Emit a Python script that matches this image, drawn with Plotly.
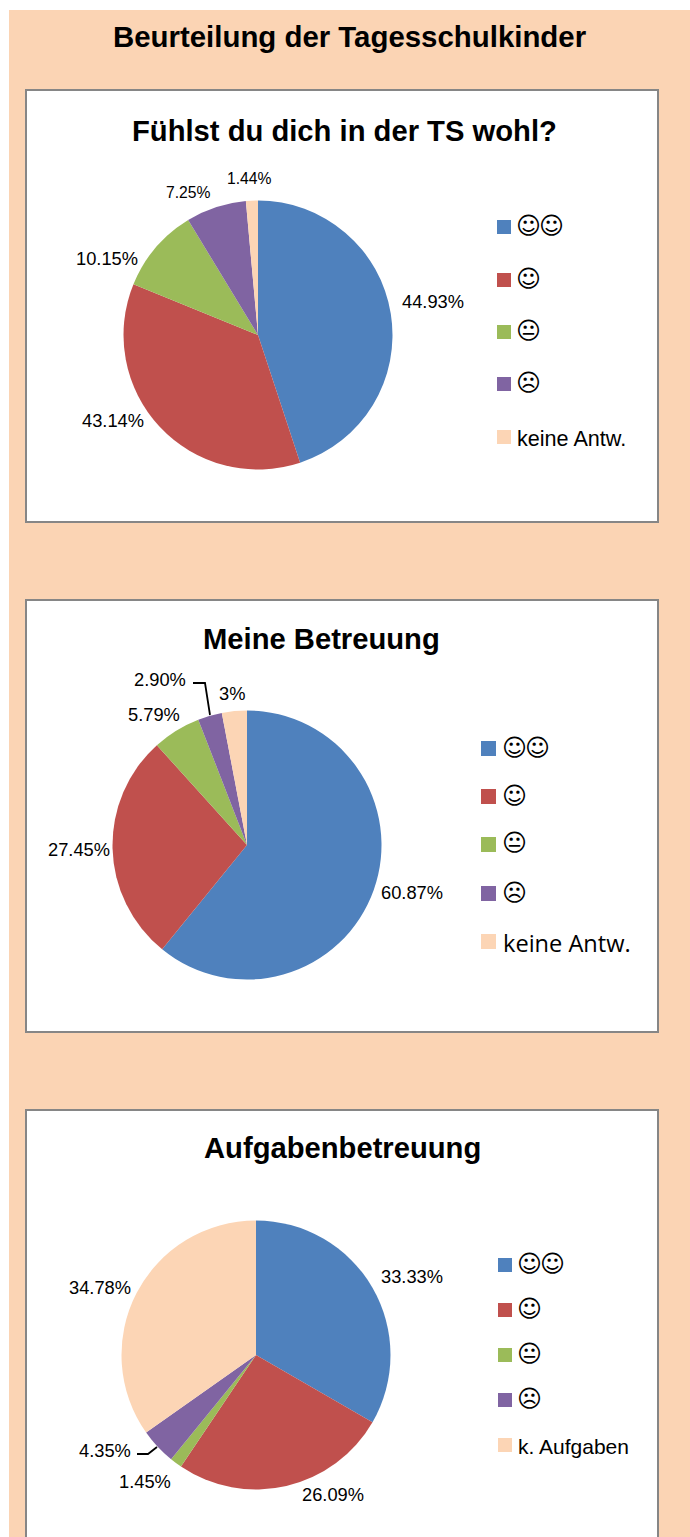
import plotly.graph_objects as go

W, H = 690, 1537

page_title = "Beurteilung der Tagesschulkinder"
chart_titles = ["Fühlst du dich in der TS wohl?", "Meine Betreuung", "Aufgabenbetreuung"]

legend_1 = ["☺☺", "☺", "😐", "☹", "keine Antw."]
legend_2 = ["☺☺", "☺", "😐", "☹", "keine Antw."]
legend_3 = ["☺☺", "☺", "😐", "☹", "k. Aufgaben"]

values_1 = [44.93, 36.23, 10.15, 7.25, 1.44]
values_2 = [60.87, 27.45, 5.79, 2.90, 3.0]
values_3 = [33.33, 26.09, 1.45, 4.35, 34.78]

labels_1 = ["44.93%", "43.14%", "10.15%", "7.25%", "1.44%"]
labels_2 = ["60.87%", "27.45%", "5.79%", "2.90%", "3%"]
labels_3 = ["33.33%", "26.09%", "1.45%", "4.35%", "34.78%"]

colors = ["#4F81BD", "#C0504D", "#9BBB59", "#8064A2", "#FCD5B5"]
PEACH = "#FBD4B4"
FONT = "Liberation Sans"


def px(x):
    return x / W


def py(y):
    return 1 - y / H


fig = go.Figure()
shapes = []
annotations = []


def text(x, y, s, size, bold=False, family=FONT, anchor="center"):
    annotations.append(dict(
        x=px(x), y=py(y), xref="paper", yref="paper", text=f"<b>{s}</b>" if bold else s,
        showarrow=False, xanchor=anchor, yanchor="middle", align="left",
        font=dict(family=family, size=size, color="#000000"), borderpad=0, borderwidth=0,
    ))


def rect(x0, y0, x1, y1, fill, line=None, lw=0):
    shapes.append(dict(
        type="rect", xref="paper", yref="paper", x0=px(x0), x1=px(x1), y0=py(y0), y1=py(y1),
        fillcolor=fill, line=dict(color=line or fill, width=lw), layer="below",
    ))


def leader(points):
    path = "M " + " L ".join(f"{px(x)},{py(y)}" for x, y in points)
    shapes.append(dict(type="path", xref="paper", yref="paper", path=path,
                       line=dict(color="#000000", width=1.8), layer="above"))


rect(9, 10, W + 5, H + 5, PEACH)
text(349.5, 36, page_title, 29.4, bold=True)

panels = [
    dict(box=(26, 90, 658, 522), cx=258, cy=335, title_y=131, title_x=344.5, title_size=29.2,
         values=values_1, labels=labels_1, legend=legend_1,
         lpos=[(432.5, 301, 18.3), (113, 421, 18.3), (106.5, 258, 18.3), (189, 192, 15.7), (249.5, 178, 15.7)],
         sq_x=497, sq=14, sq_y=[227, 280, 332, 384, 437], tx=517, fs=24, lfont=FONT, lsize=21.6),
    dict(box=(26, 600, 658, 1032), cx=247, cy=845, title_y=639, title_x=321.5, title_size=29.2,
         values=values_2, labels=labels_2, legend=legend_2,
         lpos=[(412, 893, 18.3), (79, 849, 18.3), (154, 714, 18.3), (160, 680, 18.3), (232, 694, 18.3)],
         sq_x=481, sq=15, sq_y=[748.5, 796.5, 844.5, 893.5, 941.5], tx=503, fs=24, lfont="Open Sans", lsize=23.6),
    dict(box=(26, 1110, 658, 1560), cx=256, cy=1355, title_y=1148, title_x=342.5, title_size=29.2,
         values=values_3, labels=labels_3, legend=legend_3,
         lpos=[(412, 1276, 18.3), (333, 1494, 18.3), (145, 1481, 18.3), (105, 1450, 18.3), (99.5, 1287, 18.3)],
         sq_x=498, sq=14, sq_y=[1265, 1310, 1355, 1400, 1445], tx=518, fs=24, lfont=FONT, lsize=21),
]

R = 134.5
GLYPH_PITCH = 22.5
for i, p in enumerate(panels):
    x0, y0, x1, y1 = p["box"]
    rect(x0, y0, x1, y1, "#FFFFFF", "#868686", 2)
    text(p["title_x"], p["title_y"], chart_titles[i], p["title_size"], bold=True)
    fig.add_trace(go.Pie(
        values=p["values"], labels=p["legend"], sort=False, direction="clockwise", rotation=0,
        marker=dict(colors=colors, line=dict(width=0)), textinfo="none", showlegend=False,
        hoverinfo="skip",
        domain=dict(x=[px(p["cx"] - R), px(p["cx"] + R)], y=[py(p["cy"] + R), py(p["cy"] - R)]),
    ))
    for (lx, ly, ls), lab in zip(p["lpos"], p["labels"]):
        text(lx, ly, lab, ls)
    for c, yc, name in zip(colors, p["sq_y"], p["legend"]):
        h = p["sq"] / 2
        rect(p["sq_x"], yc - h, p["sq_x"] + p["sq"], yc + h, c)
        if name[0].isalpha():
            text(p["tx"], yc + 1, name, p["lsize"], family=p["lfont"], anchor="left")
        else:
            for k, g in enumerate(name):
                text(p["tx"] - 1 + k * GLYPH_PITCH, yc - 1, g, p["fs"], family="DejaVu Sans", anchor="left")

leader([(193, 683), (205, 683), (210, 715)])
leader([(137, 1454), (148, 1454), (157, 1447)])

fig.update_layout(
    width=W, height=H, margin=dict(l=0, r=0, t=0, b=0), paper_bgcolor="#FFFFFF",
    shapes=shapes, annotations=annotations, showlegend=False,
)
fig.write_html("out.html", config=dict(displayModeBar=False),
               post_script="document.body.style.margin='0';document.body.style.overflow='hidden';window.dispatchEvent(new Event('resize'));")
